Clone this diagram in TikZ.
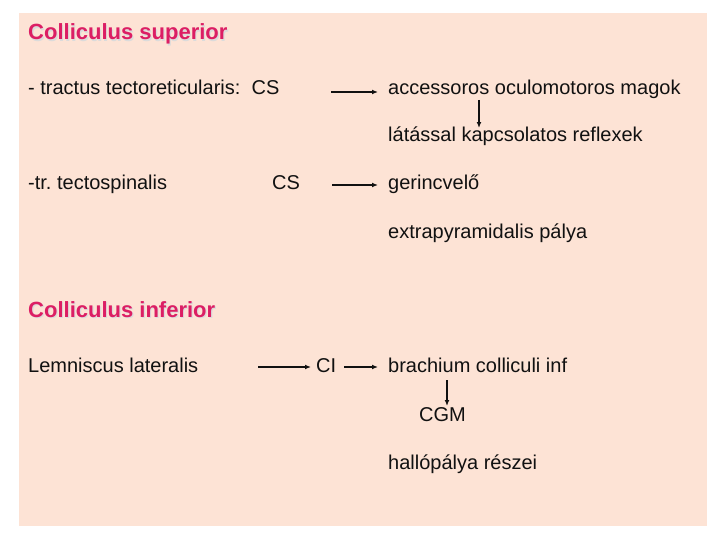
\documentclass[tikz,border=0pt]{standalone}
\usepackage{fontspec}
\setmainfont{Liberation Sans}
\usepackage{tikz}
\usetikzlibrary{arrows.meta,positioning,shadows}
\definecolor{Peach}{HTML}{FDE3D5}
\definecolor{Title}{HTML}{DC1E64}
\definecolor{Ink}{HTML}{111111}
\tikzset{
  txt/.style={anchor=base west,inner sep=0pt,text=Ink,font=\fontsize{20}{22}\selectfont},
  ttl/.style={anchor=base west,inner sep=0pt,text=Title,font=\fontsize{22}{24}\selectfont\bfseries},
  ttlshadow/.style={ttl,text=black!14},
  arrow/.style={-{Latex[length=2.1mm,width=1.7mm]},line width=1.3pt,draw=Ink}
}
\begin{document}
\begin{tikzpicture}[x=1pt,y=-1pt]
\useasboundingbox (0,0) rectangle (720,540);
\fill[Peach] (19,13) rectangle (707,526);
% superior
\node[ttlshadow] at (29.2,41.2) {Colliculus superior};
\node[ttl] (sup) at (28,40) {Colliculus superior};
\node[txt] (tect) at (28,95) {- tractus tectoreticularis:~~CS};
\node[txt] (acc) at (388,95) {accessoros oculomotoros magok};
\node[txt] (lat) at (388,142) {látással kapcsolatos reflexek};
\coordinate (a1) at (331,92);
\draw[arrow] (a1) -- ([xshift=-10pt]acc.west|-a1);
\draw[arrow] (479,100) -- (479,128);
\node[txt] (spin) at (28,190) {-tr.~tectospinalis};
\node[txt] (cs) at (272,190) {CS};
\node[txt] (ger) at (388,190) {gerincvelő};
\node[txt] (extra) at (388,239) {extrapyramidalis pálya};
\coordinate (a2) at (332,185);
\draw[arrow] (a2) -- ([xshift=-10pt]ger.west|-a2);
% inferior
\node[ttlshadow] at (29.2,318.2) {Colliculus inferior};
\node[ttl] (inf) at (28,317) {Colliculus inferior};
\node[txt] (lemn) at (28,372) {Lemniscus lateralis};
\node[txt] (ci) at (316,372) {CI};
\node[txt] (brach) at (388,372) {brachium colliculi inf};
\node[txt] (cgm) at (419,421) {CGM};
\node[txt] (hall) at (388,469) {hallópálya részei};
\coordinate (a3) at (258,367);
\draw[arrow] (a3) -- ([xshift=-5pt]ci.west|-a3);
\draw[arrow] ([xshift=8pt]ci.east|-a3) -- ([xshift=-10pt]brach.west|-a3);
\draw[arrow] (447,380) -- (447,406);
\end{tikzpicture}
\end{document}
